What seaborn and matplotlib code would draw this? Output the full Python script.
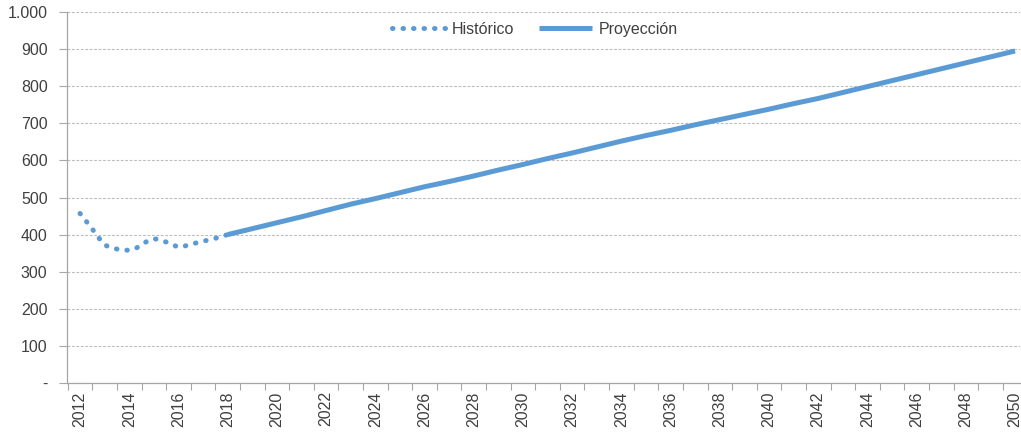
import matplotlib
matplotlib.use("Agg")
import matplotlib.pyplot as plt
import seaborn as sns
import pandas as pd
import numpy as np
from matplotlib.ticker import FixedLocator, FuncFormatter

# ---- data ----
hist_years = [2012.00, 2012.25, 2012.50, 2012.75, 2013.00, 2013.25, 2013.50, 2013.75,
              2014.00, 2014.25, 2014.50, 2014.75, 2015.00, 2015.25, 2015.50, 2015.75,
              2016.00, 2016.25, 2016.50, 2016.75, 2017.00, 2017.25, 2017.50, 2017.75,
              2018.00]
hist_values = [457, 436, 415, 392, 372, 365, 361, 358,
               358, 362, 373, 383, 389, 386, 380, 373,
               366, 369, 374, 378, 382, 386, 390, 395,
               400]

proj_years = list(range(2018, 2051))
proj_values = [400, 416, 432, 448, 465, 482, 497, 513, 529, 543, 558, 574, 589,
               605, 620, 636, 652, 667, 681, 696, 710, 724, 738, 753, 767, 783,
               799, 815, 831, 847, 863, 879, 895]

x_labels = [str(y) for y in range(2012, 2051, 2)]
y_ticks = [0, 100, 200, 300, 400, 500, 600, 700, 800, 900, 1000]

hist_df = pd.DataFrame({"year": hist_years, "value": hist_values})
proj_df = pd.DataFrame({"year": proj_years, "value": proj_values})

# ---- style ----
sns.set_theme(style="white")
plt.rcParams["font.family"] = ["Liberation Sans", "DejaVu Sans"]

color = "#5B9BD5"
fig = plt.figure(figsize=(10.21, 4.33), dpi=100)
ax = fig.add_axes([67 / 1021, 1 - 383 / 433, (1020 - 67) / 1021, (383 - 12) / 433])

sns.lineplot(data=hist_df, x="year", y="value", ax=ax, color=color,
             linewidth=3.6, linestyle=(0, (0.1, 2.0)), dash_capstyle="round",
             label="Histórico")
sns.lineplot(data=proj_df, x="year", y="value", ax=ax, color=color,
             linewidth=3.6, solid_capstyle="butt", label="Proyección")

ax.set_xlim(2011.47, 2050.2)
ax.set_ylim(0, 1000)

# y axis
ax.yaxis.set_major_locator(FixedLocator(y_ticks))
ax.yaxis.set_major_formatter(FuncFormatter(
    lambda v, p: "-" if v == 0 else f"{int(v):,}".replace(",", ".")))
ax.grid(axis="y", color="#BDBDBD", linestyle=(0, (2.5, 1.5)), linewidth=0.8)
ax.set_axisbelow(True)

# x axis
ax.xaxis.set_major_locator(FixedLocator([int(s) for s in x_labels]))
ax.set_xticklabels(x_labels, rotation=90)
ax.xaxis.set_minor_locator(FixedLocator([y + 0.5 for y in range(2011, 2051)]))
ax.tick_params(axis="x", which="major", length=0, labelsize=11.5, pad=6, colors="#404040")
ax.tick_params(axis="x", which="minor", length=5, width=0.8, color="#A6A6A6", bottom=True)
ax.tick_params(axis="y", which="major", length=6, width=0.8, color="#A6A6A6",
               labelsize=11.5, left=True, pad=8, labelcolor="#404040")

for side in ["top", "right"]:
    ax.spines[side].set_visible(False)
for side in ["left", "bottom"]:
    ax.spines[side].set_color("#A6A6A6")
    ax.spines[side].set_linewidth(0.9)

ax.set_xlabel("")
ax.set_ylabel("")

leg = ax.legend(loc="upper center", bbox_to_anchor=(0.491, 1.012), ncol=2, frameon=False,
                fontsize=11.5, handlelength=3.3, handletextpad=0.4, columnspacing=1.6)
for t in leg.get_texts():
    t.set_color("#404040")

fig.savefig("out.png", dpi=100)
